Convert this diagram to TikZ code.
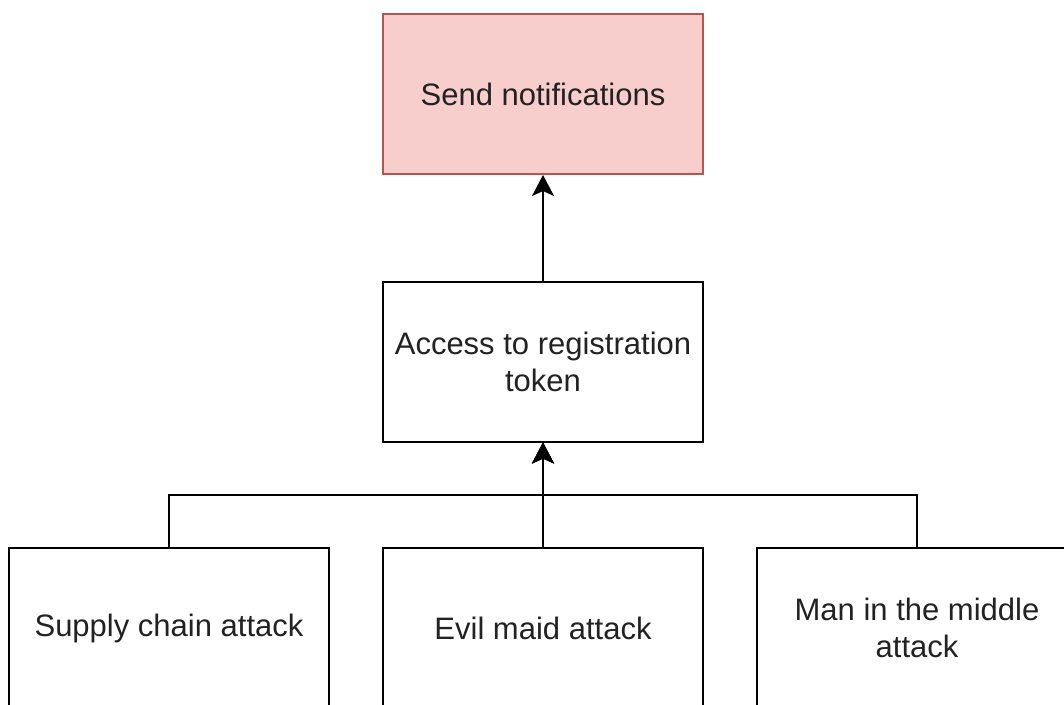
\documentclass[tikz,border=0pt]{standalone}
\usepackage{fontspec}
\setmainfont{Liberation Sans}
\usetikzlibrary{arrows.meta}
\definecolor{redfill}{HTML}{F8CECC}
\definecolor{redline}{HTML}{B85450}
\definecolor{txt}{HTML}{222222}
\tikzset{
  box/.style={draw=black, line width=2pt, fill=white, minimum width=320pt,
    minimum height=160pt, inner sep=0pt, align=center, text=txt,
    font=\fontsize{31}{37}\selectfont},
  goal/.style={box, draw=redline, fill=redfill},
  link/.style={line width=2pt, -{Stealth[length=21pt,width=22pt,inset=5pt]}},
}
\begin{document}
\begin{tikzpicture}[x=1pt,y=-1pt]
  \useasboundingbox (0,0) rectangle (1064,704);
  \clip (0,0) rectangle (1064,704);
  \fill[white] (0,0) rectangle (1064,704);

  % top goal and the intermediate step
  \node[goal] (send) at (543,94) {Send notifications};
  \node[box] (access) at (543,361.5) {Access to registration\\token};

  % attack vectors
  \node[box] (supply) at (169,628) {Supply chain attack};
  \node[box] (evil) at (543,628) {Evil maid attack};
  \node[box] (mitm) at (917,628) {Man in the middle\\attack};

  \coordinate (bus) at (543,495);

  \draw[link] (access.north) -- (send.south);
  \draw[link] (evil.north) -- (access.south);
  \draw[link] (supply.north) |- (bus) -- (access.south);
  \draw[link] (mitm.north) |- (bus) -- (access.south);
\end{tikzpicture}
\end{document}
